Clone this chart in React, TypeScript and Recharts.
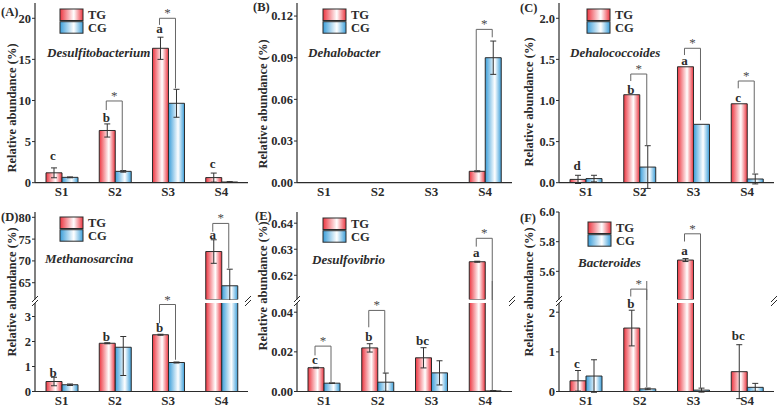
import React from "react";
import { BarChart, Bar, XAxis, YAxis, ErrorBar, ReferenceLine, ReferenceDot } from "recharts";

type Bracket = [number, number, number, number]; // [category index, left leg bottom, top, right leg bottom]
type Err = number | [number, number];

const CATS = ["S1", "S2", "S3", "S4"];

// (A) Desulfitobacterium
const A_TG = [1.2, 6.35, 16.35, 0.62];
const A_TG_ERR: Err[] = [0.6, 0.8, 1.35, 0.55];
const A_CG = [0.65, 1.38, 9.66, 0.08];
const A_CG_ERR: Err[] = [0.05, 0.1, 1.7, 0.05];
const A_LETTERS = ["c", "b", "a", "c"];
const A_LETTER_Y = [2.76, 7.4, 18.2, 1.8];
const A_BRACKETS: Bracket[] = [[1, 8.84, 9.94, 1.46], [2, 19.2, 20.0, 11.48]];
const A_TICKS = [0, 5, 10, 15, 20];

// (B) Dehalobacter
const B_TG = [0, 0, 0, 0.0082];
const B_TG_ERR: Err[] = [0, 0, 0, 0.0004];
const B_CG = [0, 0, 0, 0.09];
const B_CG_ERR: Err[] = [0, 0, 0, 0.012];
const B_LETTERS: string[] = [];
const B_LETTER_Y: number[] = [];
const B_BRACKETS: Bracket[] = [[3, 0.0088, 0.1104, 0.1047]];
const B_TICKS = [0, 0.03, 0.06, 0.09, 0.12];

// (C) Dehalococcoides
const C_TG = [0.04, 1.07, 1.41, 0.96];
const C_TG_ERR: Err[] = [0.05, 0, 0, 0];
const C_CG = [0.05, 0.19, 0.71, 0.045];
const C_CG_ERR: Err[] = [0.04, 0.26, 0, 0.06];
const C_LETTERS = ["d", "b", "a", "c"];
const C_LETTER_Y = [0.155, 1.08, 1.43, 0.985];
const C_BRACKETS: Bracket[] = [[1, 1.237, 1.322, 0.446], [2, 1.553, 1.635, 0.76], [3, 1.148, 1.237, 0.114]];
const C_TICKS = [0, 0.5, 1, 1.5, 2];

// (D) Methanosarcina
const D_TG = [0.4, 1.93, 2.27, 72.15];
const D_TG_ERR: Err[] = [0.17, 0.02, 0.02, 2.7];
const D_CG = [0.27, 1.77, 1.16, 64.3];
const D_CG_ERR: Err[] = [0.03, [1.13, 0.43], 0.02, 3.8];
const D_LETTERS = ["b", "b", "b", "a"];
const D_LETTER_Y = [0.6, 2.04, 2.37, 75.0];
const D_BRACKETS: Bracket[] = [[2, 2.73, 3.48, 1.27], [3, 76.7, 78.6, 68.3]];
const D_TICKS_UP = [65, 70, 75, 80];
const D_TICKS_LO = [0, 1, 2, 3];

// (E) Desulfovibrio
const E_TG = [0.012, 0.022, 0.017, 0.6252];
const E_TG_ERR: Err[] = [0.0002, 0.0021, 0.0051, 0.0002];
const E_CG = [0.0042, 0.0047, 0.0094, 0.0003];
const E_CG_ERR: Err[] = [0.0001, 0.0046, 0.0061, 0.0002];
const E_LETTERS = ["c", "b", "bc", "a"];
const E_LETTER_Y = [0.014, 0.0254, 0.0237, 0.6272];
const E_BRACKETS: Bracket[] = [[0, 0.0182, 0.0229, 0.0047], [1, 0.0324, 0.0409, 0.0089], [3, 0.631, 0.6342, 0.0006]];
const E_TICKS_UP = [0.62, 0.63, 0.64];
const E_TICKS_LO = [0, 0.02, 0.04];

// (F) Bacteroides
const F_TG = [0.27, 1.6, 5.676, 0.5];
const F_TG_ERR: Err[] = [0.26, 0.45, 0.01, 0.68];
const F_CG = [0.39, 0.066, 0.035, 0.105];
const F_CG_ERR: Err[] = [0.41, 0.02, 0.05, 0.1];
const F_LETTERS = ["c", "b", "a", "bc"];
const F_LETTER_Y = [0.6, 2.11, 5.711, 1.3];
const F_BRACKETS: Bracket[] = [[1, 5.43, 5.48, 0.11], [2, 5.801, 5.853, 0.085]];
const F_TICKS_UP = [5.6, 5.8, 6.0];
const F_TICKS_LO = [0, 1, 2];

const RED = "#ec3540";
const BLUE = "#3b9ed9";
const INK = "#2b2b2b";
const GREY = "#666";
const FONT = "'Liberation Serif', 'Times New Roman', serif";
const BAR = 16;

// frame boxes
const COLS: [number, number][] = [[35, 248], [297, 512], [559, 774]];
const TOP_ROW: [number, number] = [3, 182.7];
const UPPER: [number, number] = [212, 299.5];
const LOWER: [number, number] = [302.5, 391];

interface Seg {
  y: [number, number];
  domain: [number, number];
  ticks: number[];
  digits: number;
  top: boolean;
  bottom: boolean;
}

interface PanelData {
  tg: number[];
  tgErr: Err[];
  cg: number[];
  cgErr: Err[];
  letters: string[];
  letterY: number[];
  brackets: Bracket[];
}

const Grad = ({ id, color }: { id: string; color: string }) => (
  <linearGradient id={id} x1="0" y1="0" x2="1" y2="0">
    <stop offset="0" stopColor={color} />
    <stop offset="0.6" stopColor="#ffffff" />
    <stop offset="1" stopColor={color} />
  </linearGradient>
);

function SegChart({ id, x0, x1, seg, p }: { id: string; x0: number; x1: number; seg: Seg; p: PanelData }) {
  const [y0, y1] = seg.y;
  const YW = 40, MT = 22, MR = 6, XH = 20;
  const plotW = x1 - x0;
  const width = YW + plotW + MR;
  const height = MT + (y1 - y0) + (seg.bottom ? XH : 0);
  // pixel offsets from the category centre to the TG / CG bar centres
  const band = plotW / 4;
  const gap = Math.floor((band - 2 * BAR) / 2);
  const dxT = gap + BAR / 2 - band / 2;
  const dxM = gap + BAR - band / 2;
  const dxC = gap + 1.5 * BAR - band / 2;
  const lo = seg.domain[0];
  const keep = (v: number) => (lo > 0 && v < lo ? null : v);
  const rows = CATS.map((cat, i) => ({
    cat,
    tg: keep(p.tg[i]),
    tgErr: p.tgErr[i],
    cg: keep(p.cg[i]),
    cgErr: p.cgErr[i],
  }));
  const tickStyle = { fill: INK, fontSize: 12.5, fontWeight: "bold", fontFamily: FONT };

  return (
    <div style={{ position: "absolute", left: x0 - YW, top: y0 - MT }}>
      <BarChart
        width={width}
        height={height}
        data={rows}
        margin={{ top: MT, right: MR, bottom: 0, left: 0 }}
        barSize={BAR}
        barGap={0}
      >
        <defs>
          <Grad id={`${id}-tg`} color={RED} />
          <Grad id={`${id}-cg`} color={BLUE} />
        </defs>
        <XAxis
          dataKey="cat"
          hide={!seg.bottom}
          height={XH}
          interval={0}
          tickLine={false}
          tickSize={2}
          tickMargin={2}
          axisLine={{ stroke: INK, strokeWidth: 1.2 }}
          tick={{ ...tickStyle, fontSize: 13 }}
        />
        <XAxis
          xAxisId="top"
          dataKey="cat"
          orientation="top"
          height={0}
          tick={false}
          tickLine={false}
          axisLine={seg.top ? { stroke: INK, strokeWidth: 1.2 } : false}
        />
        <YAxis
          type="number"
          domain={seg.domain}
          ticks={seg.ticks}
          interval={0}
          allowDataOverflow
          width={YW}
          tickSize={3}
          tickMargin={1}
          tickFormatter={(v: number) => v.toFixed(seg.digits)}
          tick={tickStyle}
          axisLine={{ stroke: INK, strokeWidth: 1.2 }}
          tickLine={{ stroke: INK }}
        />
        <YAxis
          yAxisId="r"
          orientation="right"
          type="number"
          domain={[0, 1]}
          width={0}
          tick={false}
          tickLine={false}
          axisLine={{ stroke: INK, strokeWidth: 1.2 }}
        />
        <Bar dataKey="tg" fill={`url(#${id}-tg)`} stroke={INK} strokeWidth={1} isAnimationActive={false}>
          <ErrorBar dataKey="tgErr" width={3} stroke="#333" strokeWidth={1} />
        </Bar>
        <Bar dataKey="cg" fill={`url(#${id}-cg)`} stroke={INK} strokeWidth={1} isAnimationActive={false}>
          <ErrorBar dataKey="cgErr" width={3} stroke="#333" strokeWidth={1} />
        </Bar>
        {p.brackets.map(([k, l, t, r], j) => [
          <ReferenceLine
            key={`a${j}`}
            ifOverflow="hidden"
            segment={[{ x: CATS[k], y: l }, { x: CATS[k], y: t }]}
            shape={(d: any) => (
              <path d={`M${d.x1 + dxT},${d.y1}V${d.y2}H${d.x2 + dxC}`} fill="none" stroke={GREY} strokeWidth={1} />
            )}
          />,
          <ReferenceLine
            key={`b${j}`}
            ifOverflow="hidden"
            segment={[{ x: CATS[k], y: t }, { x: CATS[k], y: r }]}
            shape={(d: any) => (
              <line x1={d.x1 + dxC} y1={d.y1} x2={d.x2 + dxC} y2={d.y2} stroke={GREY} strokeWidth={1} />
            )}
          />,
          <ReferenceDot
            key={`s${j}`}
            x={CATS[k]}
            y={t}
            shape={(d: any) => (
              <text x={d.cx + dxM} y={d.cy - 1} textAnchor="middle" fill="#4a4a4a" fontSize={13} fontFamily={FONT}>
                *
              </text>
            )}
          />,
        ])}
        {p.letters.map((s, i) => (
          <ReferenceDot
            key={`L${i}`}
            x={CATS[i]}
            y={p.letterY[i]}
            shape={(d: any) => (
              <text x={d.cx + dxT} y={d.cy} textAnchor="middle" fill={INK} fontSize={13} fontWeight="bold" fontFamily={FONT}>
                {s}
              </text>
            )}
          />
        ))}
      </BarChart>
    </div>
  );
}

function Panel({ id, col, segs, p }: { id: string; col: number; segs: Seg[]; p: PanelData }) {
  const [x0, x1] = COLS[col];
  return (
    <>
      {segs.map((s, i) => (
        <SegChart key={i} id={`${id}${i}`} x0={x0} x1={x1} seg={s} p={p} />
      ))}
    </>
  );
}

interface Note {
  label: string;
  lx: number;
  ly: number;
  name: string;
  nx: number;
  ny: number;
  gx: number;
  gy: number;
  tx: number;
  ty: number;
}

const NOTES: Note[] = [
  { label: "(A)", lx: 1, ly: 16, name: "Desulfitobacterium", nx: 47, ny: 57, gx: 60, gy: 9, tx: 12, ty: 108 },
  { label: "(B)", lx: 253, ly: 11, name: "Dehalobacter", nx: 308, ny: 57, gx: 323, gy: 9, tx: 263, ty: 104 },
  { label: "(C)", lx: 520, ly: 12, name: "Dehalococcoides", nx: 570, ny: 57, gx: 587, gy: 9, tx: 529, ty: 102 },
  { label: "(D)", lx: 1, ly: 221, name: "Methanosarcina", nx: 45, ny: 263, gx: 60, gy: 217, tx: 12, ty: 292 },
  { label: "(E)", lx: 255, ly: 220, name: "Desulfovibrio", nx: 312, ny: 264, gx: 323, gy: 218, tx: 263, ty: 286 },
  { label: "(F)", lx: 520, ly: 222, name: "Bacteroides", nx: 578, ny: 267, gx: 588, gy: 222, tx: 529, ty: 292 },
];

function Overlay() {
  const breakY = (UPPER[1] + LOWER[0]) / 2;
  return (
    <svg width={777} height={406} style={{ position: "absolute", left: 0, top: 0, pointerEvents: "none" }}>
      <defs>
        <Grad id="lg-tg" color={RED} />
        <Grad id="lg-cg" color={BLUE} />
      </defs>
      {NOTES.map((n) => (
        <g key={n.label} fontFamily={FONT} fill={INK}>
          <text x={n.lx} y={n.ly} fontSize={12.5} fontWeight="bold">{n.label}</text>
          <text x={n.nx} y={n.ny} fontSize={13} fontWeight="bold" fontStyle="italic">{n.name}</text>
          <text
            transform={`translate(${n.tx},${n.ty}) rotate(-90)`}
            textAnchor="middle"
            dominantBaseline="central"
            fontSize={12.5}
            fontWeight="bold"
          >
            Relative abundance (%)
          </text>
          {["TG", "CG"].map((g, i) => (
            <g key={g}>
              <rect x={n.gx} y={n.gy + i * 12.7} width={23} height={11.5} fill={`url(#lg-${g.toLowerCase()})`} stroke={INK} strokeWidth={1} />
              <text x={n.gx + 28} y={n.gy + i * 12.7 + 10} fontSize={12.5} fontWeight="bold">{g}</text>
            </g>
          ))}
        </g>
      ))}
      {COLS.flatMap(([a, b]) => [a, b]).map((x) => (
        <g key={x} stroke={INK} strokeWidth={1}>
          <line x1={x - 3} y1={breakY + 1} x2={x + 3} y2={breakY - 5} />
          <line x1={x - 3} y1={breakY + 5} x2={x + 3} y2={breakY - 1} />
        </g>
      ))}
    </svg>
  );
}

export default function App() {
  return (
    <div style={{ position: "absolute", left: 0, top: 0, width: 777, height: 406, overflow: "hidden", background: "#fff" }}>
      <Panel
        id="a"
        col={0}
        segs={[{ y: TOP_ROW, domain: [0, 21.86], ticks: A_TICKS, digits: 0, top: true, bottom: true }]}
        p={{ tg: A_TG, tgErr: A_TG_ERR, cg: A_CG, cgErr: A_CG_ERR, letters: A_LETTERS, letterY: A_LETTER_Y, brackets: A_BRACKETS }}
      />
      <Panel
        id="b"
        col={1}
        segs={[{ y: TOP_ROW, domain: [0, 0.1294], ticks: B_TICKS, digits: 2, top: true, bottom: true }]}
        p={{ tg: B_TG, tgErr: B_TG_ERR, cg: B_CG, cgErr: B_CG_ERR, letters: B_LETTERS, letterY: B_LETTER_Y, brackets: B_BRACKETS }}
      />
      <Panel
        id="c"
        col={2}
        segs={[{ y: TOP_ROW, domain: [0, 2.186], ticks: C_TICKS, digits: 1, top: true, bottom: true }]}
        p={{ tg: C_TG, tgErr: C_TG_ERR, cg: C_CG, cgErr: C_CG_ERR, letters: C_LETTERS, letterY: C_LETTER_Y, brackets: C_BRACKETS }}
      />
      <Panel
        id="d"
        col={0}
        segs={[
          { y: UPPER, domain: [61.15, 81.22], ticks: D_TICKS_UP, digits: 0, top: true, bottom: false },
          { y: LOWER, domain: [0, 3.54], ticks: D_TICKS_LO, digits: 0, top: false, bottom: true },
        ]}
        p={{ tg: D_TG, tgErr: D_TG_ERR, cg: D_CG, cgErr: D_CG_ERR, letters: D_LETTERS, letterY: D_LETTER_Y, brackets: D_BRACKETS }}
      />
      <Panel
        id="e"
        col={1}
        segs={[
          { y: UPPER, domain: [0.6107, 0.6443], ticks: E_TICKS_UP, digits: 2, top: true, bottom: false },
          { y: LOWER, domain: [0, 0.04465], ticks: E_TICKS_LO, digits: 2, top: false, bottom: true },
        ]}
        p={{ tg: E_TG, tgErr: E_TG_ERR, cg: E_CG, cgErr: E_CG_ERR, letters: E_LETTERS, letterY: E_LETTER_Y, brackets: E_BRACKETS }}
      />
      <Panel
        id="f"
        col={2}
        segs={[
          { y: UPPER, domain: [5.41, 6.0], ticks: F_TICKS_UP, digits: 1, top: true, bottom: false },
          { y: LOWER, domain: [0, 2.232], ticks: F_TICKS_LO, digits: 0, top: false, bottom: true },
        ]}
        p={{ tg: F_TG, tgErr: F_TG_ERR, cg: F_CG, cgErr: F_CG_ERR, letters: F_LETTERS, letterY: F_LETTER_Y, brackets: F_BRACKETS }}
      />
      <Overlay />
    </div>
  );
}
